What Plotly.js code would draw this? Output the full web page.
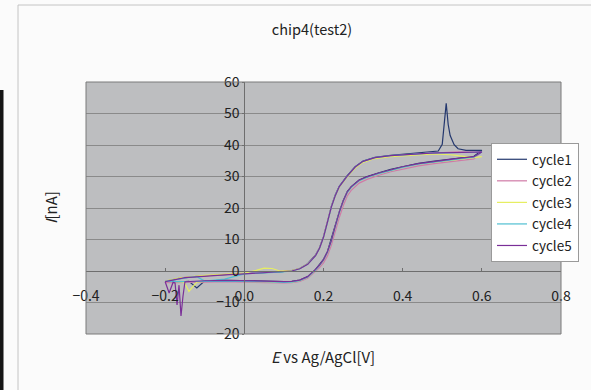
<!DOCTYPE html>
<html>
<head>
<meta charset="utf-8">
<script src="https://cdn.plot.ly/plotly-3.0.1.min.js"></script>
<style>html,body{margin:0;padding:0;background:#fbfbfb;}#chart{width:591px;height:390px;}</style>
</head>
<body>
<div id="chart"></div>
<script>
// Potential sweep (V vs Ag/AgCl): forward -0.2 -> 0.6, then reverse 0.6 -> -0.2
const forwardE = [-0.20,-0.19,-0.18,-0.17,-0.16,-0.15,-0.14,-0.12,-0.10,-0.05,0.00,0.03,0.05,0.07,0.09,0.12,0.14,0.16,0.18,0.19,0.20,0.21,0.22,0.23,0.24,0.26,0.28,0.30,0.33,0.37,0.42,0.47,0.49,0.50,0.505,0.51,0.515,0.52,0.53,0.54,0.56,0.58,0.60];
const reverseE = [0.58,0.55,0.52,0.48,0.44,0.40,0.37,0.34,0.31,0.29,0.27,0.26,0.25,0.24,0.23,0.22,0.21,0.20,0.19,0.18,0.16,0.14,0.12,0.10,0.05,0.00,-0.05,-0.10,-0.12,-0.14,-0.15,-0.155,-0.16,-0.165,-0.17,-0.175,-0.18,-0.19,-0.20];

// Currents (nA)
const cycle1Fwd = [-3.3,-3.0,-2.8,-2.5,-2.2,-2.1,-1.9,-1.7,-1.5,-1.1,-0.8,-0.6,-0.5,-0.4,-0.3,0.1,0.8,2.3,5.1,7.4,10.9,15.6,20.6,24.2,26.9,30.3,33.1,34.9,36.1,36.7,37.3,37.9,38.1,40.2,47.0,53.2,46.5,43.0,40.1,38.8,38.3,38.2,38.3];
const cycle1Rev = [36.4,36.0,35.5,34.9,34.2,33.2,32.3,31.2,30.0,28.9,26.8,25.2,22.4,18.8,14.4,9.8,6.2,3.7,2.0,0.5,-1.8,-2.9,-3.3,-3.4,-3.2,-3.0,-3.0,-3.1,-5.4,-3.3,-3.4,-3.4,-3.4,-3.4,-3.5,-3.4,-3.4,-3.4,-3.3];
const cycle2Fwd = [-3.3,-3.0,-2.7,-2.4,-2.2,-2.0,-1.9,-1.7,-1.5,-1.1,-0.8,-0.6,-0.5,-0.4,-0.3,0.1,0.8,2.2,5.0,7.3,10.8,15.5,20.5,24.0,26.7,30.0,32.8,34.6,35.8,36.4,37.0,37.4,37.5,37.6,37.6,37.7,37.7,37.7,37.8,37.8,37.8,37.8,37.9];
const cycle2Rev = [35.6,35.2,34.7,34.1,33.4,32.4,31.5,30.4,29.1,27.9,25.6,23.8,20.8,17.0,12.6,8.2,4.8,2.6,1.1,-0.1,-2.3,-3.3,-3.7,-3.8,-3.6,-3.4,-3.4,-3.5,-3.6,-3.6,-3.7,-3.7,-3.7,-3.7,-3.7,-3.7,-3.7,-3.7,-3.6];
const cycle3Fwd = [-3.2,-2.9,-2.6,-2.3,-2.1,-2.0,-1.8,-1.6,-1.4,-1.0,-0.7,0.2,0.9,0.8,0.0,0.1,0.8,2.2,4.9,7.2,10.7,15.4,20.4,23.9,26.6,29.9,32.7,34.5,35.7,36.3,36.8,37.1,37.1,37.1,37.0,37.0,37.0,36.9,36.8,36.6,36.2,36.0,36.3];
const cycle3Rev = [36.0,35.6,35.1,34.5,33.9,32.9,32.0,30.9,29.7,28.6,26.5,24.9,22.1,18.5,14.1,9.5,5.9,3.4,1.7,0.3,-2.0,-3.1,-3.5,-3.6,-3.4,-3.2,-3.2,-3.3,-3.5,-6.5,-4.0,-3.5,-3.4,-3.4,-3.4,-3.4,-3.4,-3.4,-3.3];
const cycle4Fwd = [-3.3,-3.1,-2.8,-2.5,-2.3,-2.1,-2.0,-1.8,-3.2,-2.6,-0.9,-0.7,-0.6,-0.5,-0.4,0.0,0.7,2.1,4.9,7.2,10.7,15.4,20.4,24.0,26.8,30.1,33.0,34.8,36.0,36.6,37.1,37.4,37.5,37.5,37.5,37.5,37.6,37.6,37.6,37.6,37.7,37.7,37.8];
const cycle4Rev = [36.1,35.7,35.2,34.6,33.9,32.9,32.0,30.9,29.7,28.6,26.5,24.9,22.1,18.5,14.1,9.5,5.9,3.4,1.7,0.3,-2.0,-3.1,-3.5,-3.6,-3.4,-3.2,-3.2,-3.3,-3.4,-3.4,-3.4,-3.4,-3.4,-3.4,-3.4,-3.4,-3.4,-3.4,-3.3];
const cycle5Fwd = [-3.4,-3.1,-2.8,-2.5,-2.3,-2.1,-2.0,-1.8,-1.6,-1.2,-0.9,-0.7,-0.6,-0.5,-0.4,0.0,0.7,2.1,4.9,7.2,10.7,15.4,20.4,24.0,26.8,30.1,33.0,34.8,36.0,36.6,37.1,37.4,37.5,37.5,37.5,37.5,37.6,37.6,37.6,37.6,37.7,37.7,37.8];
const cycle5Rev = [36.3,35.9,35.4,34.8,34.1,33.1,32.2,31.1,29.9,28.8,26.7,25.1,22.3,18.7,14.3,9.7,6.1,3.6,1.9,0.5,-1.8,-2.9,-3.3,-3.4,-3.2,-3.0,-3.0,-3.1,-3.2,-3.3,-3.4,-8.0,-14.3,-4.5,-10.8,-3.8,-3.6,-7.0,-3.4];

const seriesNames = ['cycle1','cycle2','cycle3','cycle4','cycle5'];
const seriesColors = ['#24386e','#d07aa6','#e6ee62','#4fbfd2','#7a2f98'];
const xTickVals = [-0.4,-0.2,0.0,0.2,0.4,0.6,0.8];
const yTickVals = [-20,-10,0,10,20,30,40,50,60];

const potential = forwardE.concat(reverseE);
const currents = [
  cycle1Fwd.concat(cycle1Rev),
  cycle2Fwd.concat(cycle2Rev),
  cycle3Fwd.concat(cycle3Rev),
  cycle4Fwd.concat(cycle4Rev),
  cycle5Fwd.concat(cycle5Rev)
];

const font = '"Noto Sans CJK JP", "DejaVu Sans", sans-serif';

const traces = seriesNames.map((n, i) => ({
  type: 'scatter', mode: 'lines', name: n, legendgroup: n,
  x: potential, y: currents[i],
  line: {color: seriesColors[i], width: 1.2}
}));

// pixel helpers for paper coordinates (plot area 86..561 x, 82..334 y)
const L = 86, R = 561, T = 82, B = 334;
const px = v => (v - L) / (R - L);
const py = v => (B - v) / (B - T);

const layout = {
  width: 591, height: 390,
  margin: {l: L, r: 591 - R, t: T, b: 390 - B, pad: 0},
  paper_bgcolor: '#fbfbfb',
  plot_bgcolor: '#bdbec0',
  font: {family: font, size: 14, color: '#222'},
  title: {text: 'chip4(test2)', font: {family: font, size: 14.5, color: '#222'},
          xref: 'paper', x: px(312), xanchor: 'center', yref: 'container', y: 1 - 30/390, yanchor: 'middle'},
  xaxis: {
    range: [-0.4, 0.8], tickvals: xTickVals, tickformat: '.1f',
    anchor: 'free', position: 0.25,
    showgrid: false, zeroline: false,
    showline: true, linecolor: '#6e6e6e', linewidth: 1,
    ticks: 'inside', ticklen: 3, tickcolor: '#6e6e6e',
    ticklabelstandoff: 12,
    tickfont: {family: font, size: 14, color: '#222'}
  },
  yaxis: {
    range: [-20, 60], tickvals: yTickVals,
    anchor: 'free', position: 1/3,
    showgrid: true, gridcolor: '#8a8a8a', gridwidth: 1, zeroline: false,
    showline: true, linecolor: '#6e6e6e', linewidth: 1,
    ticks: 'outside', ticklen: 2, tickcolor: '#6e6e6e',
    tickfont: {family: font, size: 14, color: '#222'}
  },
  legend: {
    x: px(491), y: py(143), xanchor: 'left', yanchor: 'top',
    bgcolor: '#ffffff', bordercolor: '#9a9a9a', borderwidth: 1,
    font: {family: font, size: 13.5, color: '#222'},
    tracegroupgap: 1, traceorder: 'grouped', itemwidth: 30
  },
  annotations: [
    {text: '<i>E</i> vs Ag/AgCl[V]', xref: 'paper', yref: 'paper', x: px(323), y: py(356),
     xanchor: 'center', yanchor: 'middle', showarrow: false, font: {family: font, size: 15, color: '#222'}},
    {text: '<i>I</i>[nA]', xref: 'paper', yref: 'paper', x: px(50), y: py(208), textangle: -90,
     xanchor: 'center', yanchor: 'middle', showarrow: false, font: {family: font, size: 15, color: '#222'}}
  ],
  shapes: [
    {type: 'rect', xref: 'paper', yref: 'paper', x0: 0, x1: 1, y0: 0, y1: 1,
     line: {color: '#7a7a7a', width: 1}, layer: 'above'},
    {type: 'line', xref: 'paper', yref: 'paper', x0: px(18), x1: px(18), y0: py(5), y1: py(392),
     line: {color: '#c4c4c4', width: 1}},
    {type: 'line', xref: 'paper', yref: 'paper', x0: px(18), x1: px(595), y0: py(5), y1: py(5),
     line: {color: '#c4c4c4', width: 1}},
    {type: 'rect', xref: 'paper', yref: 'paper', x0: px(0), x1: px(3.5), y0: py(90), y1: py(392),
     line: {width: 0}, fillcolor: '#151515'}
  ]
};

Plotly.newPlot('chart', traces, layout, {displayModeBar: false, staticPlot: true});
</script>
</body>
</html>
